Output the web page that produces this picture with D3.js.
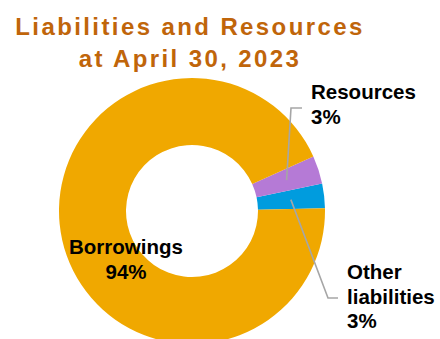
<!DOCTYPE html>
<html>
<head>
<meta charset="utf-8">
<script src="https://cdn.jsdelivr.net/npm/d3@7"></script>
<style>
  body { margin: 0; background: #fff; }
  svg { display: block; font-family: "Liberation Sans", Arial, sans-serif; }
</style>
</head>
<body>
<svg id="chart" width="440" height="339"></svg>
<script>
// Slices in drawing order, counterclockwise from 3 o'clock
var categories = ["Other liabilities", "Resources", "Borrowings"];
var values = [3.0, 3.4, 93.6];
var pctLabels = ["3%", "3%", "94%"];
var colors = ["#009cde", "#b57ad6", "#f0a800"];
var titleLines = ["Liabilities and Resources", "at April 30, 2023"];

var svg = d3.select("#chart");
var cx = 192, cy = 211;
var rOuter = 133, rInner = 66;

// Title
svg.selectAll(".title")
  .data(titleLines)
  .enter().append("text")
  .attr("class", "title")
  .attr("x", 190)
  .attr("y", function(d, i) { return 35 + i * 31.5; })
  .attr("text-anchor", "middle")
  .style("font-size", "24px")
  .style("font-weight", "bold")
  .style("letter-spacing", "2.4px")
  .style("fill", "#c0650a")
  .text(function(d) { return d; });

var start = Math.PI / 2 - 0.02;
var pie = d3.pie()
  .sort(null)
  .startAngle(start)
  .endAngle(start - 2 * Math.PI);

var arc = d3.arc().innerRadius(rInner).outerRadius(rOuter);
var arcs = pie(values);

var g = svg.append("g")
  .attr("transform", "translate(" + cx + "," + cy + ")");

g.selectAll("path")
  .data(arcs)
  .enter().append("path")
  .attr("d", arc)
  .attr("fill", function(d, i) { return colors[i]; });

// Leader lines for the two small slices
var leaders = [
  { i: 0, pts: [[328, 298], [338, 298]] },
  { i: 1, pts: [[291, 108], [302, 108]] }
];
leaders.forEach(function(l) {
  var c = arc.centroid(arcs[l.i]);
  var pts = [[cx + c[0], cy + c[1]]].concat(l.pts);
  svg.append("path")
    .attr("d", d3.line()(pts))
    .attr("fill", "none")
    .attr("stroke", "#a6a6a6")
    .attr("stroke-width", 1.6);
});

// Labels
var labels = [
  { lines: ["Other", "liabilities", pctLabels[0]], x: 347, y: 279, anchor: "start" },
  { lines: [categories[1], pctLabels[1]], x: 311, y: 99, anchor: "start" },
  { lines: [categories[2], pctLabels[2]], x: 126, y: 254, anchor: "middle" }
];
labels.forEach(function(lb) {
  var t = svg.append("text")
    .attr("text-anchor", lb.anchor)
    .style("font-size", "20.5px")
    .style("font-weight", "bold")
    .style("fill", "#000");
  lb.lines.forEach(function(s, k) {
    t.append("tspan")
      .attr("x", lb.x)
      .attr("y", lb.y + k * 24.5)
      .text(s);
  });
});
</script>
</body>
</html>
